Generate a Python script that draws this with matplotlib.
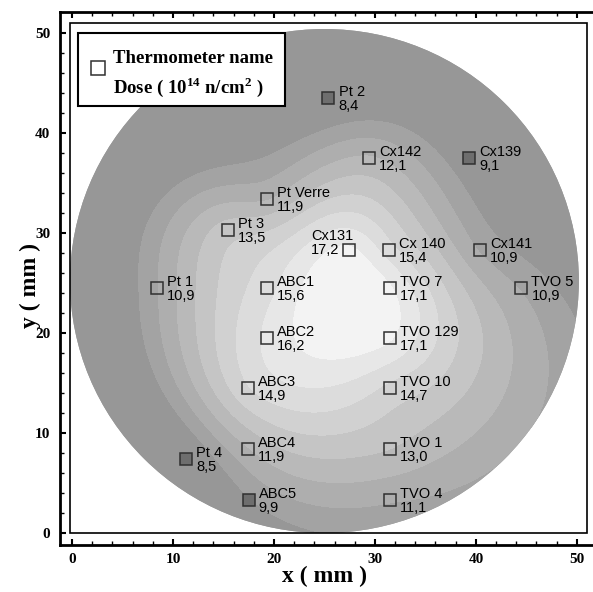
import matplotlib
matplotlib.use('Agg')
import matplotlib.pyplot as plt
from matplotlib.patches import Circle, Rectangle
import numpy as np

# thermometres : nom, position (mm), dose (1e14 n/cm2)
noms = ['Pt 2', 'Cx142', 'Cx139', 'Pt Verre', 'Pt 3', 'Cx131', 'Cx 140', 'Cx141',
        'Pt 1', 'ABC1', 'TVO 7', 'TVO 5', 'ABC2', 'TVO 129', 'ABC3', 'TVO 10',
        'ABC4', 'TVO 1', 'Pt 4', 'ABC5', 'TVO 4']
pos_x = [25.4, 29.4, 39.3, 19.3, 15.4, 27.4, 31.4, 40.4,
         8.4, 19.3, 31.5, 44.5, 19.3, 31.5, 17.4, 31.5,
         17.4, 31.5, 11.3, 17.5, 31.5]
pos_y = [43.5, 37.5, 37.5, 33.4, 30.3, 28.3, 28.3, 28.3,
         24.5, 24.5, 24.5, 24.5, 19.5, 19.5, 14.5, 14.5,
         8.4, 8.4, 7.4, 3.3, 3.3]
dose = [8.4, 12.1, 9.1, 11.9, 13.5, 17.2, 15.4, 10.9,
        10.9, 15.6, 17.1, 10.9, 16.2, 17.1, 14.9, 14.7,
        11.9, 13.0, 8.5, 9.9, 11.1]

niveaux = [10, 11, 12, 13, 14, 15, 16, 17]
gris = ['#979797', '#a3a3a3', '#aeaeae', '#b9b9b9', '#c5c5c5', '#d1d1d1',
        '#dcdcdc', '#e7e7e7', '#f3f3f3']

plt.rcParams['mathtext.fontset'] = 'custom'
plt.rcParams['mathtext.rm'] = 'Liberation Serif:bold'
plt.rcParams['mathtext.bf'] = 'Liberation Serif:bold'


def tps(xs, ys, vals, gx, gy):
    # spline plaque mince passant par les mesures
    n = len(xs)
    def phi(r):
        with np.errstate(divide='ignore', invalid='ignore'):
            v = r ** 2 * np.log(r)
        return np.nan_to_num(v)
    r = np.hypot(xs[:, None] - xs[None, :], ys[:, None] - ys[None, :])
    P = np.column_stack([np.ones(n), xs, ys])
    A = np.zeros((n + 3, n + 3))
    A[:n, :n] = phi(r)
    A[:n, n:] = P
    A[n:, :n] = P.T
    b = np.concatenate([vals, np.zeros(3)])
    sol = np.linalg.solve(A, b)
    w, a = sol[:n], sol[n:]
    rg = np.hypot(gx[..., None] - xs, gy[..., None] - ys)
    return phi(rg) @ w + a[0] + a[1] * gx + a[2] * gy


fig = plt.figure(figsize=(5.93, 5.92), dpi=100)
ax = fig.add_axes([0.1012, 0.0794, 0.8988, 0.9003])
ax.set_xlim(-1.19, 51.6)
ax.set_ylim(-1.2, 52.1)

cx, cy, R = 25, 25.2, 25.2
gx, gy = np.meshgrid(np.linspace(-0.5, 50.5, 300), np.linspace(-0.5, 50.8, 300))
champ = tps(np.array(pos_x), np.array(pos_y), np.array(dose), gx, gy)
disque = Circle((cx, cy), R, facecolor=gris[0], edgecolor='none', zorder=1)
ax.add_patch(disque)
cs = ax.contourf(gx, gy, champ, levels=[-100] + niveaux + [100], colors=gris, zorder=2)
cs.set_clip_path(disque)

# carrés des thermomètres
for i in range(len(noms)):
    fc = '#6e6e6e' if dose[i] < 10 else 'none'
    ax.plot(pos_x[i], pos_y[i], 's', ms=8, mfc=fc, mec='#303030', mew=1.1, zorder=5)
    txt = noms[i] + '\n' + ('%.1f' % dose[i]).replace('.', ',')
    if noms[i] == 'Cx131':
        ax.text(pos_x[i] - 3.7, pos_y[i] + 0.7, txt, ha='left', va='center',
                fontsize=10.5, family='Liberation Sans', linespacing=1.0, zorder=6)
    else:
        ax.text(pos_x[i] + 1.0, pos_y[i] - 0.1, txt, ha='left', va='center',
                fontsize=10.5, family='Liberation Sans', linespacing=1.0, zorder=6)

# cadre intérieur
ax.add_patch(Rectangle((-0.2, 0), 51.2, 51, facecolor='none', edgecolor='black', lw=1.2, zorder=3))

# légende
ax.add_patch(Rectangle((0.6, 42.7), 20.5, 7.3, facecolor='white', edgecolor='black', lw=1.5, zorder=7))
ax.plot(2.6, 46.5, 's', ms=9.5, mfc='white', mec='#303030', mew=1.1, zorder=8)
ax.text(4.1, 47.0, 'Thermometer name', family='Liberation Serif', weight='bold',
        fontsize=13.5, va='baseline', zorder=8)
ax.text(4.1, 44.0, r'Dose ( 10$^{14}$ n/cm$^{2}$ )', family='Liberation Serif', weight='bold',
        fontsize=13.5, va='baseline', zorder=8)

# axes
for s in ['left', 'bottom', 'top']:
    ax.spines[s].set_linewidth(2)
ax.spines['right'].set_visible(False)
ax.set_xticks(np.arange(0, 51, 10))
ax.set_yticks(np.arange(0, 51, 10))
ax.set_xticks(np.arange(0, 52, 2), minor=True)
ax.set_yticks(np.arange(0, 52, 2), minor=True)
ax.tick_params(which='both', direction='in', top=True, right=False)
ax.tick_params(which='major', length=4, width=1.5)
ax.tick_params(which='minor', length=3, width=1)
ax.tick_params(axis='x', pad=6)
ax.tick_params(axis='y', pad=7)
for lab in ax.get_xticklabels() + ax.get_yticklabels():
    lab.set_family('Liberation Serif')
    lab.set_weight('bold')
    lab.set_fontsize(11)

fig.text(0.548, 0.026, 'x ( mm )', family='Liberation Serif', weight='bold',
         fontsize=17, ha='center', va='center')
fig.text(0.051, 0.517, 'y ( mm )', family='Liberation Serif', weight='bold',
         fontsize=17, ha='center', va='center', rotation=90)

fig.savefig('out.png', dpi=100)
